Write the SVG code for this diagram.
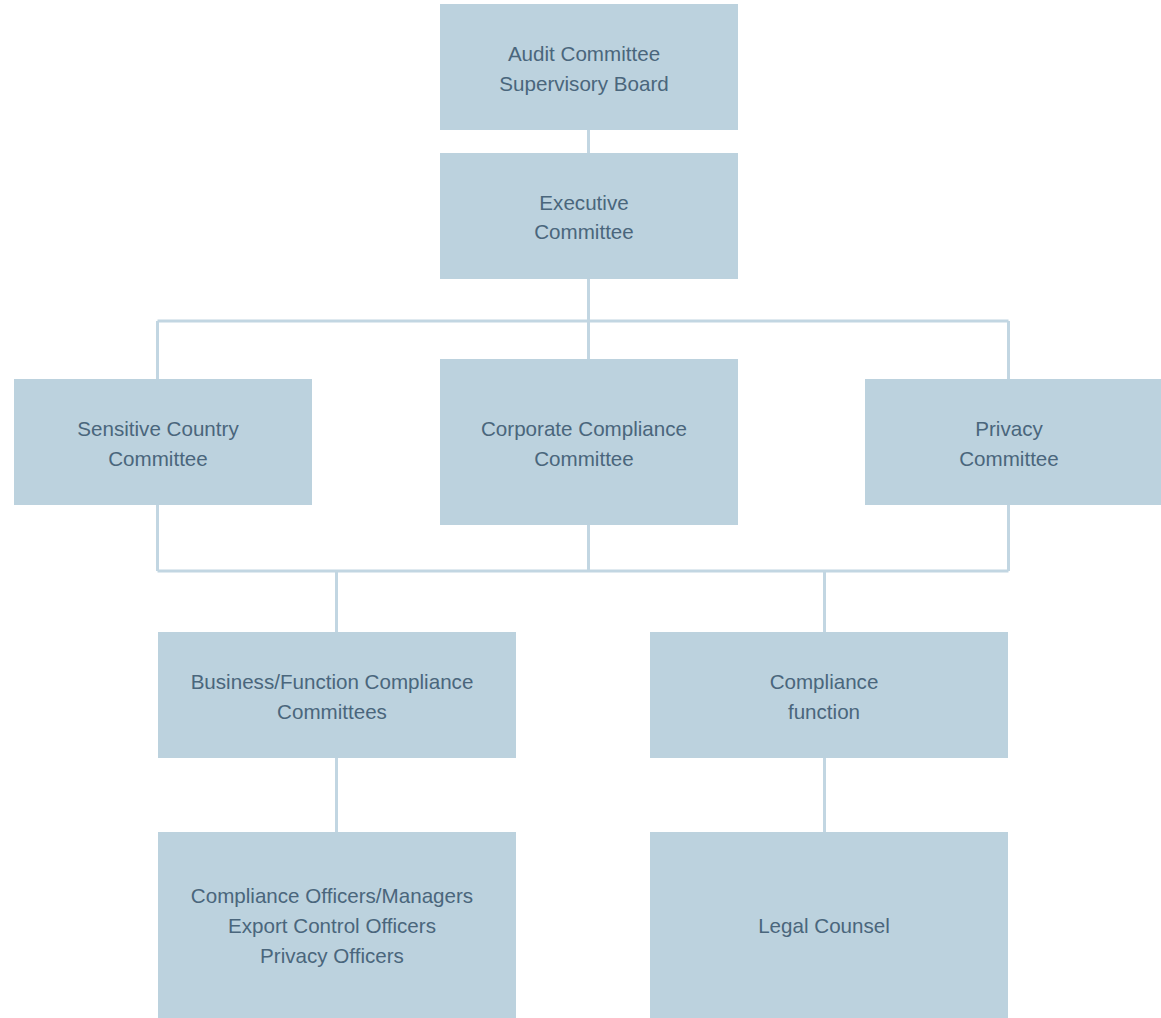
<svg xmlns="http://www.w3.org/2000/svg" width="1161" height="1018" viewBox="0 0 1161 1018">
<style>
.box{fill:#bcd2de}
.t{font-family:"Liberation Sans",Arial,sans-serif;font-size:20.6px;fill:#4a667c;text-anchor:middle}
.c{stroke:#c2d6e2;stroke-width:3;fill:none}
</style>
<rect width="1161" height="1018" fill="#ffffff"/>
<g id="connectors">
<path class="c" d="M588.5 130V153M588.5 279V359M157.5 321H1008.5M157.5 321V379M1008.5 321V379M157.5 505V571M588.5 525V571M1008.5 505V571M157.5 571H1008.5M336.5 571V632M824.5 571V632M336.5 758V832M824.5 758V832"/>
</g>
<g id="audit"><rect class="box" x="440" y="4" width="298" height="126"/><text class="t" x="584" y="61">Audit Committee</text><text class="t" x="584" y="91">Supervisory Board</text></g>
<g id="executive"><rect class="box" x="440" y="153" width="298" height="126"/><text class="t" x="584" y="210">Executive</text><text class="t" x="584" y="239">Committee</text></g>
<g id="sensitive"><rect class="box" x="14" y="379" width="298" height="126"/><text class="t" x="158" y="436">Sensitive Country</text><text class="t" x="158" y="466">Committee</text></g>
<g id="corporate"><rect class="box" x="440" y="359" width="298" height="166"/><text class="t" x="584" y="436">Corporate Compliance</text><text class="t" x="584" y="466">Committee</text></g>
<g id="privacy"><rect class="box" x="865" y="379" width="296" height="126"/><text class="t" x="1009" y="436">Privacy</text><text class="t" x="1009" y="466">Committee</text></g>
<g id="business"><rect class="box" x="158" y="632" width="358" height="126"/><text class="t" x="332" y="689">Business/Function Compliance</text><text class="t" x="332" y="719">Committees</text></g>
<g id="compliance"><rect class="box" x="650" y="632" width="358" height="126"/><text class="t" x="824" y="689">Compliance</text><text class="t" x="824" y="719">function</text></g>
<g id="officers"><rect class="box" x="158" y="832" width="358" height="186"/><text class="t" x="332" y="903">Compliance Officers/Managers</text><text class="t" x="332" y="933">Export Control Officers</text><text class="t" x="332" y="963">Privacy Officers</text></g>
<g id="legal"><rect class="box" x="650" y="832" width="358" height="186"/><text class="t" x="824" y="933">Legal Counsel</text></g>
</svg>
